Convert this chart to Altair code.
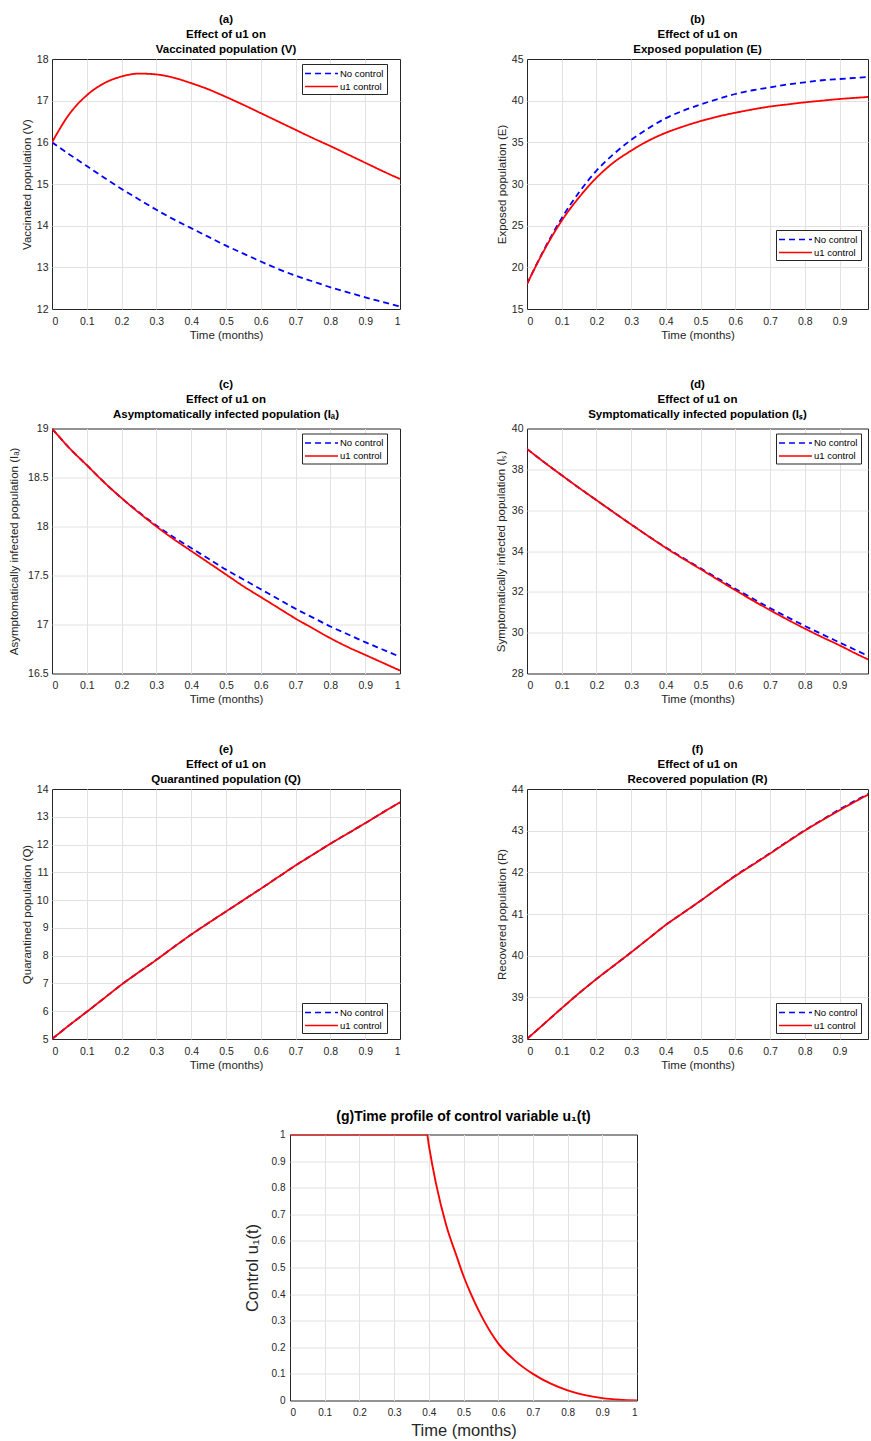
import altair as alt
import pandas as pd

FONT = "Liberation Sans"
SERIES = ["No control", "u1 control"]
GRID = "#e2e2e2"

# common time grid (months)
t = [0.00, 0.05, 0.10, 0.15, 0.20, 0.25, 0.30, 0.35, 0.40, 0.45, 0.50,
     0.55, 0.60, 0.65, 0.70, 0.75, 0.80, 0.85, 0.90, 0.95, 1.00]
x_ticks = [0, 0.1, 0.2, 0.3, 0.4, 0.5, 0.6, 0.7, 0.8, 0.9, 1]

# (a) Vaccinated population
v_no = [16.00, 15.71, 15.43, 15.15, 14.88, 14.63, 14.38, 14.15, 13.94, 13.73, 13.52,
        13.33, 13.14, 12.96, 12.80, 12.66, 12.52, 12.40, 12.28, 12.17, 12.06]
v_u1 = [16.00, 16.68, 17.13, 17.42, 17.58, 17.65, 17.63, 17.55, 17.42, 17.27, 17.09,
        16.90, 16.70, 16.50, 16.30, 16.10, 15.91, 15.71, 15.51, 15.31, 15.12]
v_ticks = [12, 13, 14, 15, 16, 17, 18]

# (b) Exposed population
e_no = [18.0, 22.2, 25.9, 29.0, 31.6, 33.6, 35.3, 36.7, 37.9, 38.8, 39.55,
        40.2, 40.8, 41.25, 41.6, 41.95, 42.2, 42.45, 42.6, 42.75, 42.9]
e_u1 = [18.0, 22.1, 25.6, 28.4, 30.75, 32.6, 34.0, 35.2, 36.15, 36.9, 37.55,
        38.1, 38.55, 38.95, 39.3, 39.55, 39.8, 40.0, 40.2, 40.35, 40.5]
e_ticks = [15, 20, 25, 30, 35, 40, 45]

# (c) Asymptomatically infected population
ia_no = [19.0, 18.80, 18.626, 18.45, 18.29, 18.145, 18.01, 17.89, 17.78, 17.67, 17.56,
         17.46, 17.36, 17.26, 17.16, 17.07, 16.98, 16.90, 16.82, 16.745, 16.67]
ia_u1 = [19.0, 18.80, 18.626, 18.45, 18.29, 18.14, 18.00, 17.87, 17.75, 17.63, 17.51,
         17.39, 17.28, 17.17, 17.06, 16.96, 16.86, 16.77, 16.69, 16.61, 16.53]
ia_ticks = [16.5, 17, 17.5, 18, 18.5, 19]

# (d) Symptomatically infected population
is_no = [39.0, 38.34, 37.71, 37.09, 36.49, 35.89, 35.30, 34.72, 34.17, 33.65, 33.15,
         32.65, 32.15, 31.67, 31.20, 30.76, 30.33, 29.92, 29.52, 29.12, 28.72]
is_u1 = [39.0, 38.34, 37.71, 37.09, 36.49, 35.89, 35.30, 34.72, 34.15, 33.62, 33.11,
         32.59, 32.08, 31.58, 31.10, 30.64, 30.20, 29.78, 29.38, 28.95, 28.55]
is_ticks = [28, 30, 32, 34, 36, 38, 40]

# (e) Quarantined population
q_no = [5.0, 5.50, 5.98, 6.47, 6.96, 7.41, 7.85, 8.31, 8.76, 9.18, 9.59,
        10.00, 10.41, 10.83, 11.25, 11.64, 12.03, 12.40, 12.77, 13.15, 13.52]
q_u1 = [5.0, 5.50, 5.98, 6.47, 6.96, 7.41, 7.85, 8.31, 8.76, 9.18, 9.59,
        10.00, 10.41, 10.83, 11.25, 11.64, 12.03, 12.40, 12.77, 13.15, 13.52]
q_ticks = [5, 6, 7, 8, 9, 10, 11, 12, 13, 14]

# (f) Recovered population
r_no = [38.0, 38.37, 38.74, 39.10, 39.44, 39.76, 40.08, 40.41, 40.74, 41.03, 41.32,
        41.62, 41.92, 42.19, 42.46, 42.74, 43.01, 43.26, 43.51, 43.74, 43.96]
r_u1 = [38.0, 38.37, 38.74, 39.10, 39.44, 39.76, 40.08, 40.41, 40.74, 41.03, 41.32,
        41.62, 41.91, 42.18, 42.45, 42.73, 43.00, 43.25, 43.49, 43.72, 43.94]
r_ticks = [38, 39, 40, 41, 42, 43, 44]

# (g) control profile
g_t = [0.0, 0.395, 0.40, 0.42, 0.45, 0.48, 0.50, 0.52, 0.55, 0.60,
       0.65, 0.70, 0.75, 0.80, 0.85, 0.90, 0.95, 1.0]
g_u = [1.0, 1.0, 0.96, 0.82, 0.66, 0.543, 0.468, 0.405, 0.322, 0.215,
       0.148, 0.10, 0.064, 0.038, 0.02, 0.009, 0.003, 0.0]
g_ticks = [0, 0.1, 0.2, 0.3, 0.4, 0.5, 0.6, 0.7, 0.8, 0.9, 1]


def long_df(no, u1):
    return pd.DataFrame({
        "t": t + t,
        "value": no + u1,
        "series": [SERIES[0]] * len(t) + [SERIES[1]] * len(t),
    })


def grid_color(lo, hi):
    # hide grid lines lying on the frame so the dark box stays visible
    return {
        "condition": {
            "test": f"datum.value <= {lo} + 1e-9 || datum.value >= {hi} - 1e-9",
            "value": "transparent",
        },
        "value": GRID,
    }


def make_legend(lx, ly):
    return alt.Legend(
        title=None, orient="none", legendX=lx, legendY=ly,
        symbolType="M-3,0H3", symbolSize=121, symbolStrokeWidth=1.6,
        symbolOffset=10, labelOffset=12,
        labelFont=FONT, labelFontSize=9.5, labelColor="black",
        strokeColor="#262626", fillColor="white", padding=3, rowPadding=2,
    )


def panel(no, u1, letter, name, ytitle, ydom, yticks, xmax, width, height,
          lx, ly, ypad, toff):
    leg = make_legend(lx, ly)
    xt = [v for v in x_ticks if v <= xmax + 1e-9]
    return alt.Chart(long_df(no, u1)).mark_line(
        clip=True, interpolate="monotone", strokeWidth=1.8
    ).encode(
        x=alt.X("t:Q", scale=alt.Scale(domain=[0, xmax], nice=False, zero=False),
                axis=alt.Axis(values=xt, format="~g", title="Time (months)",
                              labelFontSize=10.5, titleFontSize=11.5,
                              labelPadding=7, titlePadding=2.5,
                              gridColor=grid_color(0, xmax))),
        y=alt.Y("value:Q", scale=alt.Scale(domain=ydom, nice=False, zero=False),
                axis=alt.Axis(values=yticks, format="~g", title=ytitle,
                              labelFontSize=10.5, titleFontSize=11.5,
                              labelPadding=4, titlePadding=ypad,
                              gridColor=grid_color(ydom[0], ydom[1]))),
        color=alt.Color("series:N", scale=alt.Scale(domain=SERIES, range=["#0000ff", "#ff0000"]),
                        legend=leg),
        strokeDash=alt.StrokeDash("series:N", scale=alt.Scale(domain=SERIES, range=[[6, 4], [1, 0]]),
                                  legend=leg),
    ).properties(
        width=width, height=height,
        title=alt.TitleParams(text=[f"({letter})", "Effect of u1 on", name],
                              fontSize=11.5, lineHeight=15, offset=toff),
    )


W_L, W_R, XMAX_R = 348, 341, 0.982

pa = panel(v_no, v_u1, "a", "Vaccinated population (V)", "Vaccinated population (V)",
           [12, 18], v_ticks, 1, W_L, 250, 250, 5, 4, -1)
pb = panel(e_no, e_u1, "b", "Exposed population (E)", "Exposed population (E)",
           [15, 45], e_ticks, XMAX_R, W_R, 250, 249, 171, 4, -1)
pc = panel(ia_no, ia_u1, "c", "Asymptomatically infected population (Iₐ)",
           "Asymptomatically infected population (Iₐ)",
           [16.5, 19], ia_ticks, 1, W_L, 245, 250, 5, 8, 3)
pd_ = panel(is_no, is_u1, "d", "Symptomatically infected population (Iₛ)",
            "Symptomatically infected population (Iₛ)",
            [28, 40], is_ticks, XMAX_R, W_R, 245, 249, 5, 5, 3)
pe = panel(q_no, q_u1, "e", "Quarantined population (Q)", "Quarantined population (Q)",
           [5, 14], q_ticks, 1, W_L, 250, 250, 214, 4, -1)
pf = panel(r_no, r_u1, "f", "Recovered population (R)", "Recovered population (R)",
           [38, 44], r_ticks, XMAX_R, W_R, 250, 249, 214, 4, -1)

pg = alt.Chart(pd.DataFrame({"t": g_t, "u": g_u})).mark_line(
    color="#ff0000", strokeWidth=1.9, interpolate="monotone", clip=True
).encode(
    x=alt.X("t:Q", scale=alt.Scale(domain=[0, 1], nice=False, zero=False),
            axis=alt.Axis(values=g_ticks, format="~g", title="Time (months)",
                          labelFontSize=10, titleFontSize=16.5,
                          labelPadding=7, titlePadding=5,
                          gridColor=grid_color(0, 1))),
    y=alt.Y("u:Q", scale=alt.Scale(domain=[0, 1], nice=False, zero=False),
            axis=alt.Axis(values=g_ticks, format="~g", title="Control u₁(t)",
                          labelFontSize=10, titleFontSize=16.5,
                          labelPadding=5, titlePadding=11,
                          gridColor=grid_color(0, 1))),
).properties(
    width=347, height=266,
    title=alt.TitleParams(text="(g)Time profile of control variable u₁(t)",
                          fontSize=14, offset=6),
)

# invisible left spacer that pushes panel (g) to the middle of the figure
spacer = alt.Chart(pd.DataFrame({"v": [0]})).mark_point(opacity=0).encode(
    x=alt.X("v:Q", axis=None), y=alt.Y("v:Q", axis=None)
).properties(width=1, height=266, view=alt.ViewBackground(stroke="transparent"))


def res(c):
    return c.resolve_scale(
        x="independent", y="independent", color="independent", strokeDash="independent"
    ).resolve_legend(color="independent", strokeDash="independent")


row1 = res(alt.hconcat(pa, pb, spacing=127, bounds="flush"))
row2 = res(alt.hconcat(pc, pd_, spacing=127, bounds="flush"))
row3 = res(alt.hconcat(pe, pf, spacing=127, bounds="flush"))
row4 = res(alt.hconcat(spacer, pg, spacing=237, bounds="flush"))
chart = res(alt.vconcat(row1, row2, row3, row4, spacing=37.5)).properties(
    padding={"left": 8, "top": 13, "right": 0, "bottom": 0},
    background="white",
).configure_view(
    stroke="#262626", strokeWidth=1
).configure_axis(
    grid=True, gridWidth=1, domain=False, ticks=False, tickSize=0,
    labelFont=FONT, titleFont=FONT, labelColor="#262626", titleColor="#262626",
    titleFontWeight="normal",
).configure_title(
    font=FONT, color="black", fontWeight="bold", anchor="middle", frame="group",
)

chart.save("out.html", embed_options={"renderer": "svg", "actions": False})
